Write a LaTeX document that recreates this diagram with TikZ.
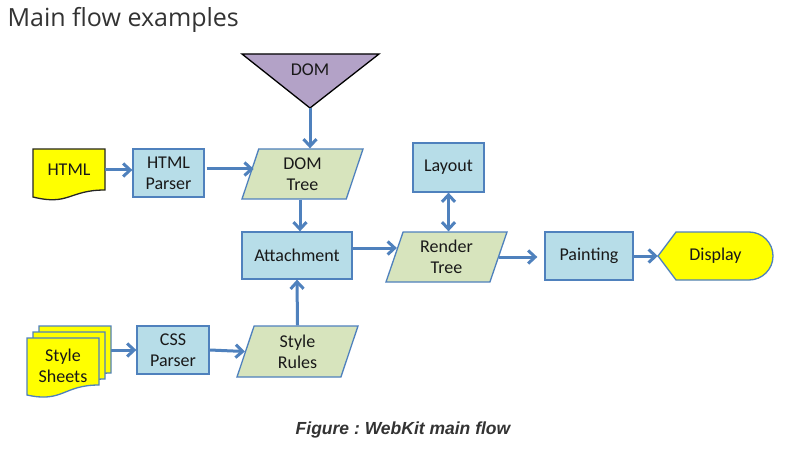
\documentclass[tikz,border=0pt]{standalone}
\usepackage{fontspec}
\setmainfont{Carlito}
\newfontfamily\titlefont{Open Sans}
\newfontfamily\capfont{Liberation Sans}
\usepackage{xcolor}
\usepackage{tikz}
\usetikzlibrary{shapes.geometric,arrows.meta}
\definecolor{boxblue}{HTML}{B7DDE8}
\definecolor{lineblue}{HTML}{4F81BD}
\definecolor{treegreen}{HTML}{D7E4BD}
\definecolor{dompurple}{HTML}{B3A2C7}
\definecolor{docyellow}{HTML}{FFFF00}
\definecolor{textgray}{HTML}{333333}

\begin{document}
\begin{tikzpicture}[x=1pt,y=-1pt,
    label font/.style={font=\fontsize{18}{21}\selectfont, align=center, text=black!90},
    box/.style={label font, draw=lineblue, line width=1.3pt, fill=boxblue, minimum width=71, minimum height=48},
    tree/.style={label font, trapezium, trapezium left angle=67, trapezium right angle=113,
        trapezium stretches body, draw=lineblue, line width=1.3pt, fill=treegreen, minimum width=121, minimum height=50},
    doc/.style={draw=black!85, line width=1.3pt, fill=docyellow},
    sheet/.style={draw=lineblue, line width=1.3pt, fill=docyellow},
    flow/.style={draw=lineblue, line width=3pt, -{Straight Barb[length=7pt,width=13pt]}},
    twoway/.style={flow, {Straight Barb[length=7pt,width=13pt]}-{Straight Barb[length=7pt,width=13pt]}}]
    \useasboundingbox[fill=white] (0,0) rectangle (794,454);

    \node[anchor=base west, font=\titlefont\fontsize{25}{28}\selectfont, text=textgray] (title) at (4,27) {Main flow examples};

    \draw[line width=1.3pt, fill=dompurple] (242,54) -- (379,54) -- (310,108) -- cycle;
    \node[label font] (dom) at (310,70) {DOM};
    \coordinate (domtip) at (310,108);

    \draw[doc] (33,149) -- (105,149) -- (105,190) .. controls (69,190) and (69,206) .. (33,197) -- cycle;
    \node[label font, minimum width=72, minimum height=46] (html) at (69,170) {HTML};
    \node[box] (htmlparser) at (168.5,173) {HTML\\Parser};
    \node[tree] (domtree) at (302.5,174) {DOM\\Tree};

    \node[box, minimum width=110, minimum height=47] (attach) at (297,255.5) {Attachment};
    \node[box, minimum height=49] (layout) at (448.5,167.5) {Layout};
    \node[tree] (rendertree) at (446.5,257) {Render\\Tree};
    \node[box, minimum width=88] (painting) at (589,256) {Painting};

    \draw[sheet] (658,256) -- (676,232) -- (749,232) arc (-90:90:24) -- (676,280) -- cycle;
    \node[label font, minimum width=115, minimum height=48] (display) at (715.5,256) {Display};

    \foreach \s in {12,6,0}
        \draw[sheet] ({27+\s},{338-\s}) -- ({99+\s},{338-\s}) -- ({99+\s},{385-\s})
            .. controls ({63+\s},{385-\s}) and ({63+\s},{403-\s}) .. ({27+\s},{395-\s}) -- cycle;
    \node[label font] (sheets) at (63,366) {Style\\Sheets};
    \coordinate (sheetsout) at (111,350);
    \node[box, minimum width=72] (cssparser) at (173,350) {CSS\\Parser};
    \node[tree, minimum height=51] (stylerules) at (297.5,351.5) {Style\\Rules};

    \draw[flow] (domtip) -- (domtip |- domtree.north);
    \draw[flow] (html.east) -- (html.east -| htmlparser.west);
    \draw[flow] ([xshift=2pt,yshift=4pt]htmlparser.east) -- ([xshift=4pt,yshift=4pt]htmlparser.east -| domtree.west);
    \draw[flow] (domtree.south -| 300,0) -- (attach.north -| 300,0);
    \draw[flow] ([yshift=7.5pt]attach.east) -- ([xshift=3pt,yshift=7.5pt]attach.east -| rendertree.west);
    \draw[twoway] (layout.south) -- (layout.south |- rendertree.north);
    \draw[flow, shorten >=7pt] (rendertree.east) -- (rendertree.east -| painting.west);
    \draw[flow] (painting.east) -- (display.west);
    \draw[flow] (sheetsout) -- (sheetsout -| cssparser.west);
    \draw[flow] (cssparser.east) -- (stylerules.west);
    \draw[flow] (stylerules.north) -- (attach.south);

    \node[font=\capfont\bfseries\itshape\fontsize{17.5}{20}\selectfont, text=textgray] (caption) at (403,430) {\frenchspacing Figure : WebKit main flow};
\end{tikzpicture}
\end{document}
